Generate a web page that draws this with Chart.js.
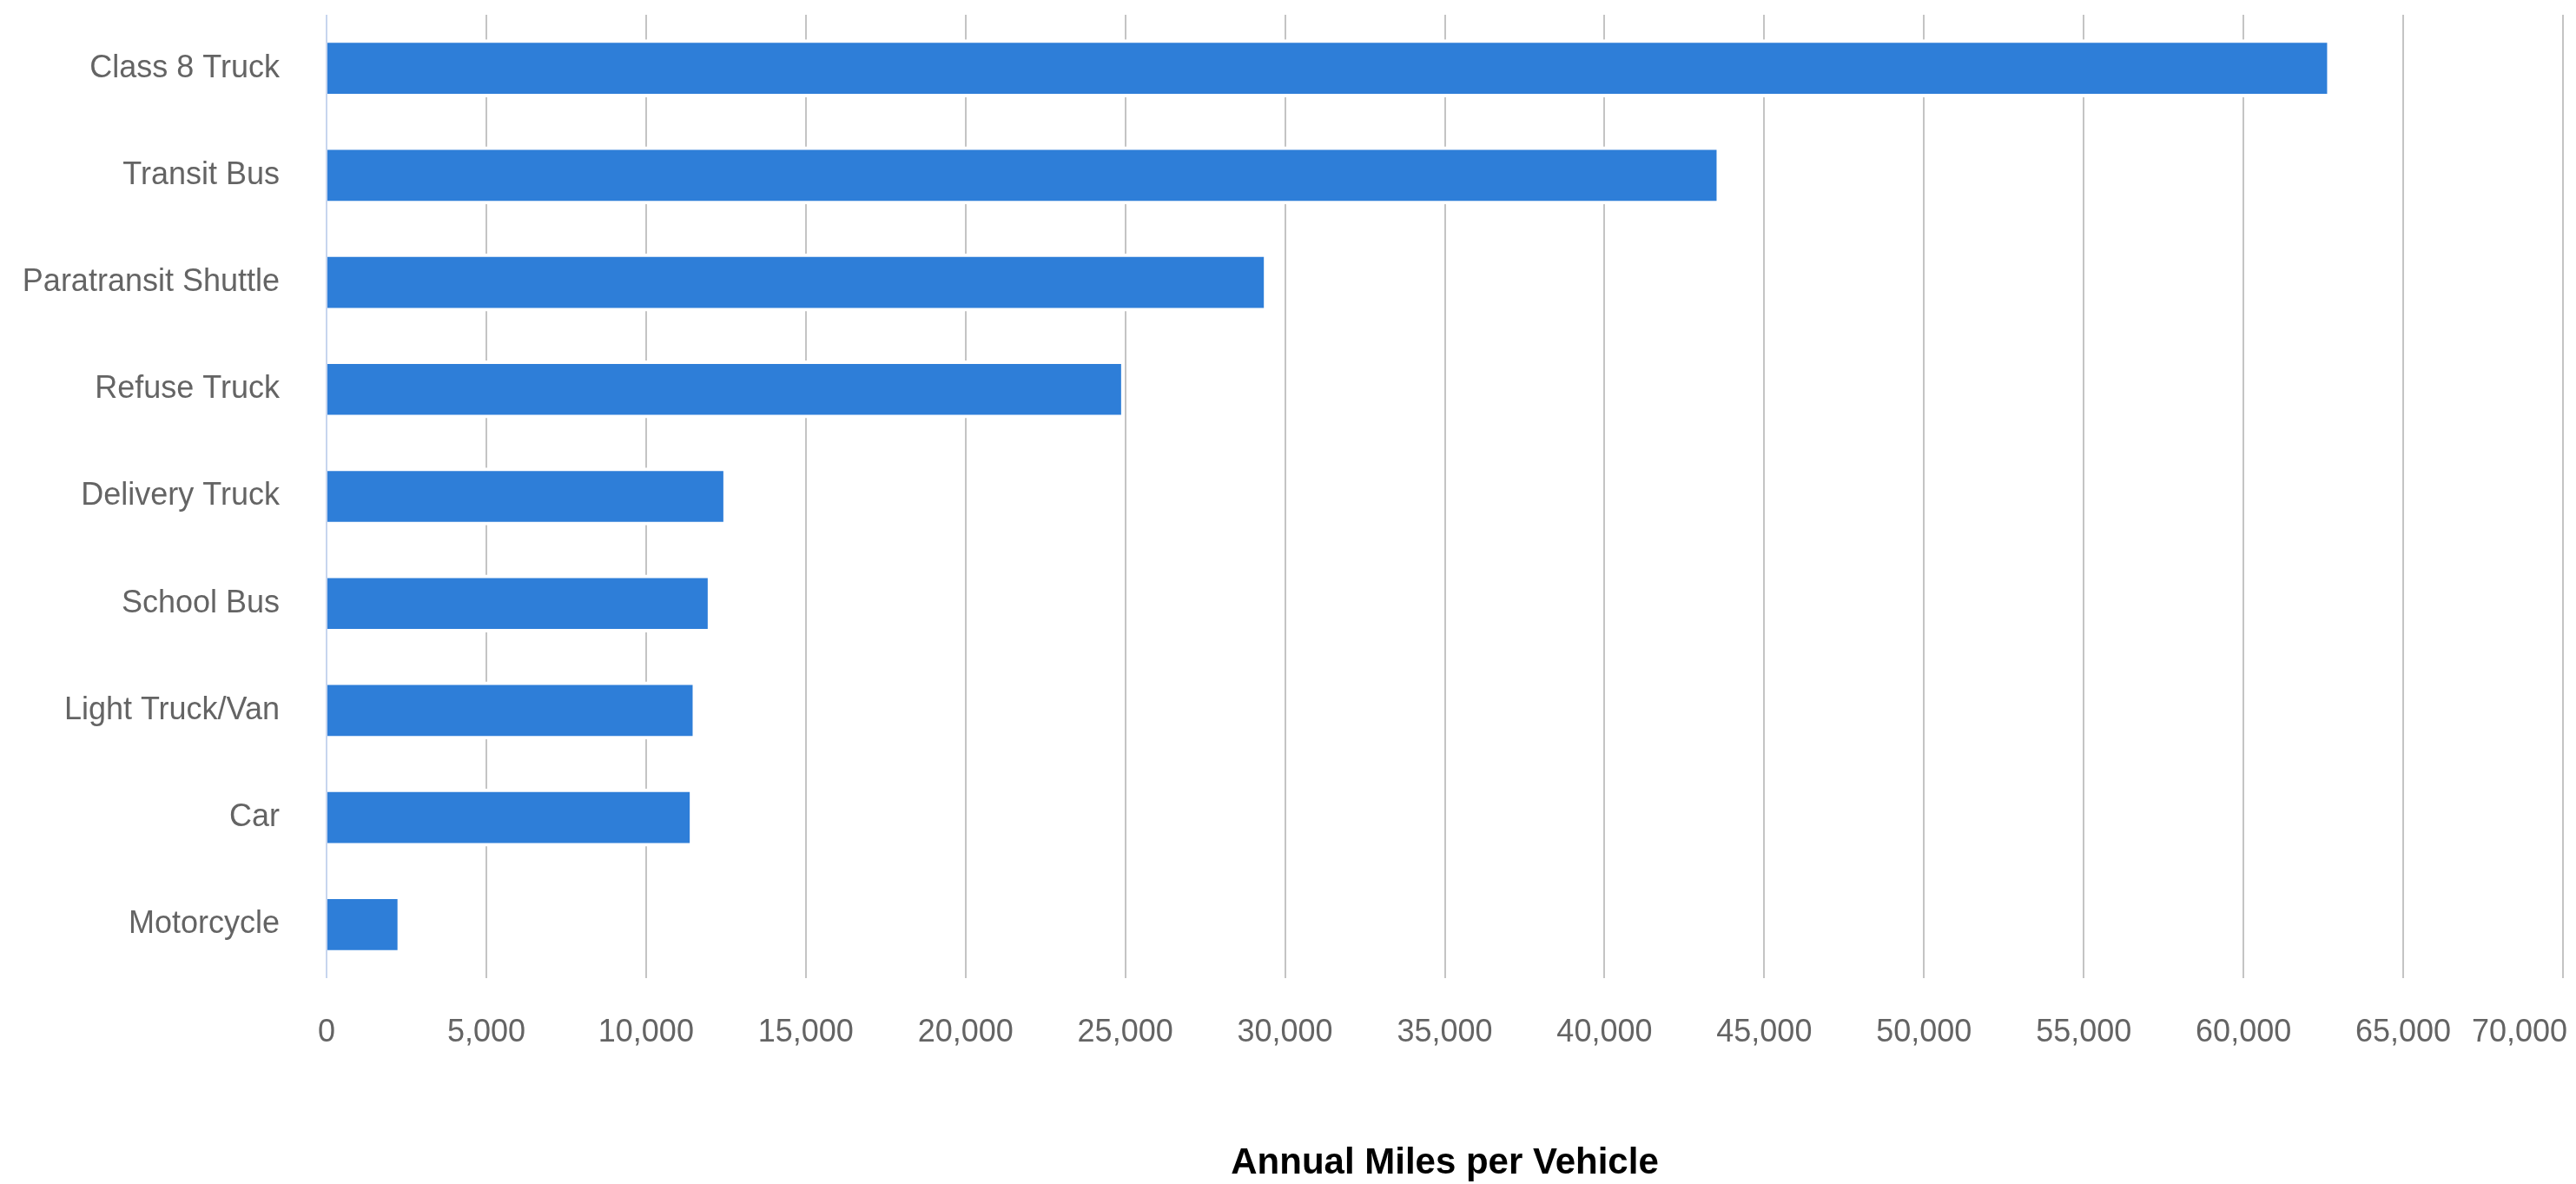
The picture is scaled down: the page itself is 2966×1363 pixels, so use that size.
<!DOCTYPE html>
<html>
<head>
<meta charset="utf-8">
<script src="https://cdn.jsdelivr.net/npm/chart.js@4.4.1/dist/chart.umd.min.js"></script>
<style>
  html, body { margin: 0; padding: 0; background: #fff; }
  #wrap { width: 2966px; height: 1363px; position: relative; }
</style>
</head>
<body>
<div id="wrap"><canvas id="chart"></canvas></div>
<script>
const vehicles = ['Class 8 Truck', 'Transit Bus', 'Paratransit Shuttle', 'Refuse Truck', 'Delivery Truck',
                  'School Bus', 'Light Truck/Van', 'Car', 'Motorcycle'];
const annualMiles = [62620, 43510, 29340, 24870, 12420, 11930, 11460, 11370, 2220];
const axisMax = 70000;
const axisStep = 5000;
const axisTitle = 'Annual Miles per Vehicle';

const fontFamily = "'Liberation Sans Narrow', 'Liberation Sans', Arial, sans-serif";
const gridGrey = '#c4c4c4';
const zeroLine = '#c7d5ee';
const labelGrey = '#646464';

function setupChart(chartId) {
    const data = {
        labels: vehicles,
        datasets: [{
            label: axisTitle,
            data: annualMiles,
            backgroundColor: '#2e7ed8',
            borderColor: '#ffffff',
            borderWidth: { top: 4, bottom: 4, left: 0, right: 0 },
            borderSkipped: false,
            barThickness: 66
        }]
    };
    const config = {
        type: 'bar',
        data: data,
        options: {
            indexAxis: 'y',
            responsive: true,
            maintainAspectRatio: false,
            animation: false,
            layout: { padding: { top: 17, right: 15, bottom: 0, left: 0 } },
            scales: {
                x: {
                    min: 0,
                    max: axisMax,
                    grid: {
                        drawTicks: false,
                        lineWidth: 2,
                        color: (ctx) => ctx.tick && ctx.tick.value === 0 ? zeroLine : gridGrey
                    },
                    border: { display: false },
                    ticks: {
                        stepSize: axisStep,
                        autoSkip: false,
                        maxRotation: 0,
                        padding: 41,
                        color: labelGrey,
                        font: { family: fontFamily, size: 36 },
                        // last label sits flush with the right edge, as in the original
                        callback: (v) => v === axisMax ? v.toLocaleString('en-US') + '          ' : v.toLocaleString('en-US')
                    },
                    title: {
                        display: true,
                        text: axisTitle,
                        color: '#000',
                        padding: { top: 0, bottom: 3 },
                        font: { family: fontFamily, size: 42, weight: 'bold', lineHeight: 1 }
                    },
                    afterFit: (scale) => { scale.height = 237; scale.paddingRight = 0; scale.paddingLeft = 0; }
                },
                y: {
                    grid: { display: false, drawTicks: false },
                    border: { display: false },
                    ticks: {
                        padding: 54,
                        color: labelGrey,
                        font: { family: fontFamily, size: 36 }
                    },
                    afterFit: (scale) => { scale.width = 376; scale.paddingTop = 0; scale.paddingBottom = 0; }
                }
            },
            plugins: {
                legend: { display: false },
                tooltip: { enabled: false },
                title: { display: false }
            }
        }
    };
    return new Chart(document.getElementById(chartId), config);
}

setupChart('chart');
</script>
</body>
</html>
